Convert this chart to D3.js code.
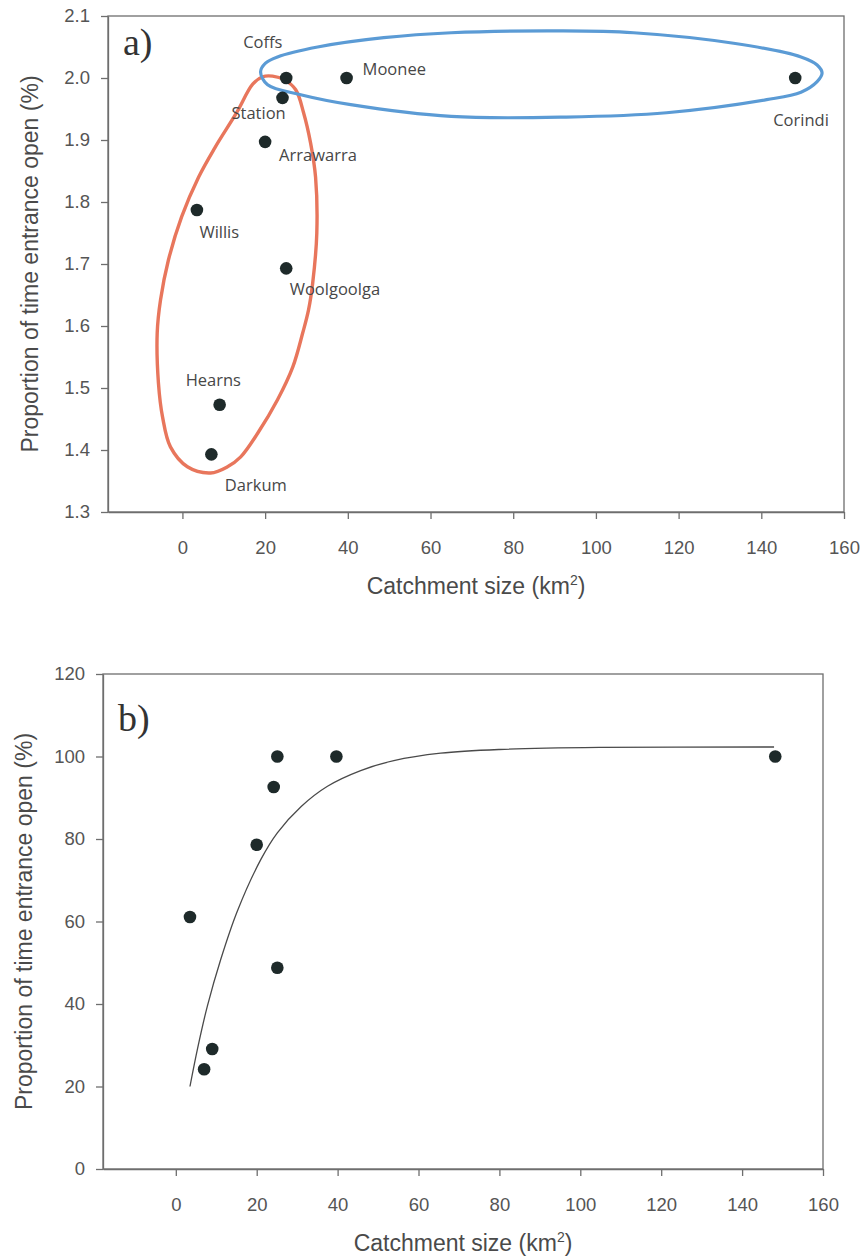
<!DOCTYPE html>
<html>
<head>
<meta charset="utf-8">
<script src="https://cdn.jsdelivr.net/npm/d3@7"></script>
<style>
  html, body { margin: 0; padding: 0; background: #ffffff; }
  svg { display: block; }
</style>
</head>
<body>
<svg id="chart" width="864" height="1258"></svg>
<script>
// ---------- data ----------
const sites      = ["Coffs", "Station", "Moonee", "Corindi", "Arrawarra", "Willis", "Woolgoolga", "Hearns", "Darkum"];
const catchment  = [25.1, 24.2, 39.7, 148.2, 20.0, 3.5, 25.1, 9.0, 7.0];
const logOpen    = [2.00, 1.968, 2.00, 2.00, 1.897, 1.787, 1.693, 1.473, 1.393];
const pctOpen    = [100, 92.6, 100, 100, 78.6, 61.1, 48.8, 29.1, 24.2];

const xTicks     = [0, 20, 40, 60, 80, 100, 120, 140, 160];
const yTicksA    = [1.3, 1.4, 1.5, 1.6, 1.7, 1.8, 1.9, 2.0, 2.1];
const yTicksB    = [0, 20, 40, 60, 80, 100, 120];

// fitted curve in panel b
const curveX     = [3.5, 5.4, 7.8, 11.1, 15.2, 21.0, 25.1, 31.0, 37.5, 45.7, 53.9, 65.5, 80.0, 104.7, 147.9];
const curveY     = [20.0, 29.3, 39.5, 50.8, 62.5, 75.0, 81.5, 87.9, 92.8, 96.6, 99.0, 100.8, 101.7, 102.2, 102.3];

// hand-drawn group outlines in panel a (data units)
const redLoopX   = [19.4, 21.8, 24.7, 27.4, 29.3, 31.0, 32.2, 32.5, 31.5, 30.5, 29.1, 26.7, 23.0, 18.2, 14.1, 10.9, 6.8, 1.2, -2.9, -4.8, -5.8, -6.1, -5.3, -3.4, -0.2, 3.9, 7.8, 13.1, 17.0];
const redLoopY   = [2.002, 2.003, 1.997, 1.981, 1.944, 1.895, 1.840, 1.750, 1.669, 1.626, 1.589, 1.534, 1.481, 1.427, 1.389, 1.373, 1.363, 1.373, 1.405, 1.453, 1.508, 1.589, 1.642, 1.706, 1.776, 1.840, 1.887, 1.944, 1.990];
const blueLoopX  = [18.9, 20.1, 23.0, 32.7, 48.7, 65.0, 91.6, 109.1, 133.3, 149.6, 153.5, 154.7, 153.5, 149.6, 141.3, 117.1, 92.8, 65.0, 40.7, 28.6, 20.6];
const blueLoopY  = [2.010, 2.024, 2.034, 2.050, 2.065, 2.073, 2.076, 2.073, 2.056, 2.034, 2.021, 2.008, 1.994, 1.977, 1.965, 1.944, 1.937, 1.938, 1.957, 1.973, 1.989];

// label offsets (pixels, relative to point) for panel a
const labelDx    = [-43, -51, 16, -22, 14, 2.5, 3.5, -34, 13.5];
const labelDy    = [-30, 21.6, -3, 48, 19, 28, 27, -19, 37];

// ---------- drawing ----------
const svg = d3.select("#chart");
svg.append("rect").attr("width", 864).attr("height", 1258).attr("fill", "#ffffff");

const axisColor = "#6e6e6e";
const tickText  = "#555555";
const titleFont = "'Liberation Sans', Arial, sans-serif";

function drawFrame(g, x, y, xt, yt, fmtY, opts) {
  const [x0, x1] = x.range();
  const [y0, y1] = y.range(); // y0 bottom, y1 top
  g.append("rect")
    .attr("x", x0).attr("y", y1)
    .attr("width", x1 - x0).attr("height", y0 - y1)
    .attr("fill", "none").attr("stroke", axisColor).attr("stroke-width", 1.3);

  const xa = g.append("g").attr("transform", `translate(0,${y0})`)
    .call(d3.axisBottom(x).tickValues(xt).tickSize(7).tickSizeOuter(0).tickPadding(opts.xPad).tickFormat(d3.format("d")));
  const ya = g.append("g").attr("transform", `translate(${x0},0)`)
    .call(d3.axisLeft(y).tickValues(yt).tickSize(7).tickSizeOuter(0).tickPadding(opts.yPad).tickFormat(fmtY));
  [xa, ya].forEach(a => {
    a.select(".domain").attr("stroke", axisColor).attr("stroke-width", 1.3);
    a.selectAll(".tick line").attr("stroke", axisColor).attr("stroke-width", 1.3);
    a.selectAll(".tick text")
      .attr("fill", tickText)
      .style("font-family", titleFont)
      .style("font-size", "18.5px");
  });

  g.append("text")
    .attr("x", (x0 + x1) / 2).attr("y", opts.xTitleY)
    .attr("text-anchor", "middle")
    .attr("fill", "#4a4a4a")
    .style("font-family", titleFont).style("font-size", "23px")
    .call(t => {
      t.append("tspan").text("Catchment size (km");
      t.append("tspan").text("2").attr("dy", -9).style("font-size", "14px");
      t.append("tspan").text(")").attr("dy", 9);
    });

  g.append("text")
    .attr("transform", `translate(${opts.yTitleX},${(y0 + y1) / 2}) rotate(-90)`)
    .attr("text-anchor", "middle")
    .attr("fill", "#4a4a4a")
    .style("font-family", titleFont).style("font-size", "23px")
    .text("Proportion of time entrance open (%)");

  g.append("text")
    .attr("x", x0 + 15).attr("y", opts.panelLabelY)
    .attr("fill", "#333333")
    .style("font-family", "'Liberation Serif', 'Times New Roman', serif")
    .style("font-size", "38px")
    .text(opts.panelLabel);
}

const dotColor = "#1e2a2a";

// ----- Panel a -----
{
  const x = d3.scaleLinear().domain([-18, 160]).range([108, 844]);
  const y = d3.scaleLinear().domain([1.3, 2.1]).range([512, 16]);
  const g = svg.append("g");
  drawFrame(g, x, y, xTicks, yTicksA, d3.format(".1f"),
    { xPad: 22, yPad: 11, xTitleY: 594, yTitleX: 38, panelLabelY: 55, panelLabel: "a)" });

  const loop = d3.line().curve(d3.curveCatmullRomClosed.alpha(0.5));
  g.append("path")
    .attr("d", loop(redLoopX.map((v, i) => [x(v), y(redLoopY[i])])))
    .attr("fill", "none").attr("stroke", "#E8765C").attr("stroke-width", 3.4)
    .attr("stroke-linejoin", "round");
  g.append("path")
    .attr("d", loop(blueLoopX.map((v, i) => [x(v), y(blueLoopY[i])])))
    .attr("fill", "none").attr("stroke", "#5B9BD5").attr("stroke-width", 3.2)
    .attr("stroke-linejoin", "round");

  g.selectAll("circle.pa").data(sites).enter().append("circle")
    .attr("class", "pa")
    .attr("cx", (d, i) => x(catchment[i]))
    .attr("cy", (d, i) => y(logOpen[i]))
    .attr("r", 6.3)
    .attr("fill", dotColor);

  g.selectAll("text.lab").data(sites).enter().append("text")
    .attr("class", "lab")
    .attr("x", (d, i) => x(catchment[i]) + labelDx[i])
    .attr("y", (d, i) => y(logOpen[i]) + labelDy[i])
    .attr("fill", "#474747")
    .style("font-family", "'Open Sans', 'Noto Sans', sans-serif")
    .style("font-size", "16.5px")
    .text(d => d);
}

// ----- Panel b -----
{
  const x = d3.scaleLinear().domain([-18, 160]).range([103, 823]);
  const y = d3.scaleLinear().domain([0, 120]).range([1169, 674]);
  const g = svg.append("g");
  drawFrame(g, x, y, xTicks, yTicksB, d3.format("d"),
    { xPad: 22, yPad: 11, xTitleY: 1251, yTitleX: 32, panelLabelY: 731, panelLabel: "b)" });

  const line = d3.line().curve(d3.curveCatmullRom.alpha(0.5));
  g.append("path")
    .attr("d", line(curveX.map((v, i) => [x(v), y(curveY[i])])))
    .attr("fill", "none").attr("stroke", "#4a4a4a").attr("stroke-width", 1.3);

  g.selectAll("circle.pb").data(sites).enter().append("circle")
    .attr("class", "pb")
    .attr("cx", (d, i) => x(catchment[i]))
    .attr("cy", (d, i) => y(pctOpen[i]))
    .attr("r", 6.3)
    .attr("fill", dotColor);
}
</script>
</body>
</html>
